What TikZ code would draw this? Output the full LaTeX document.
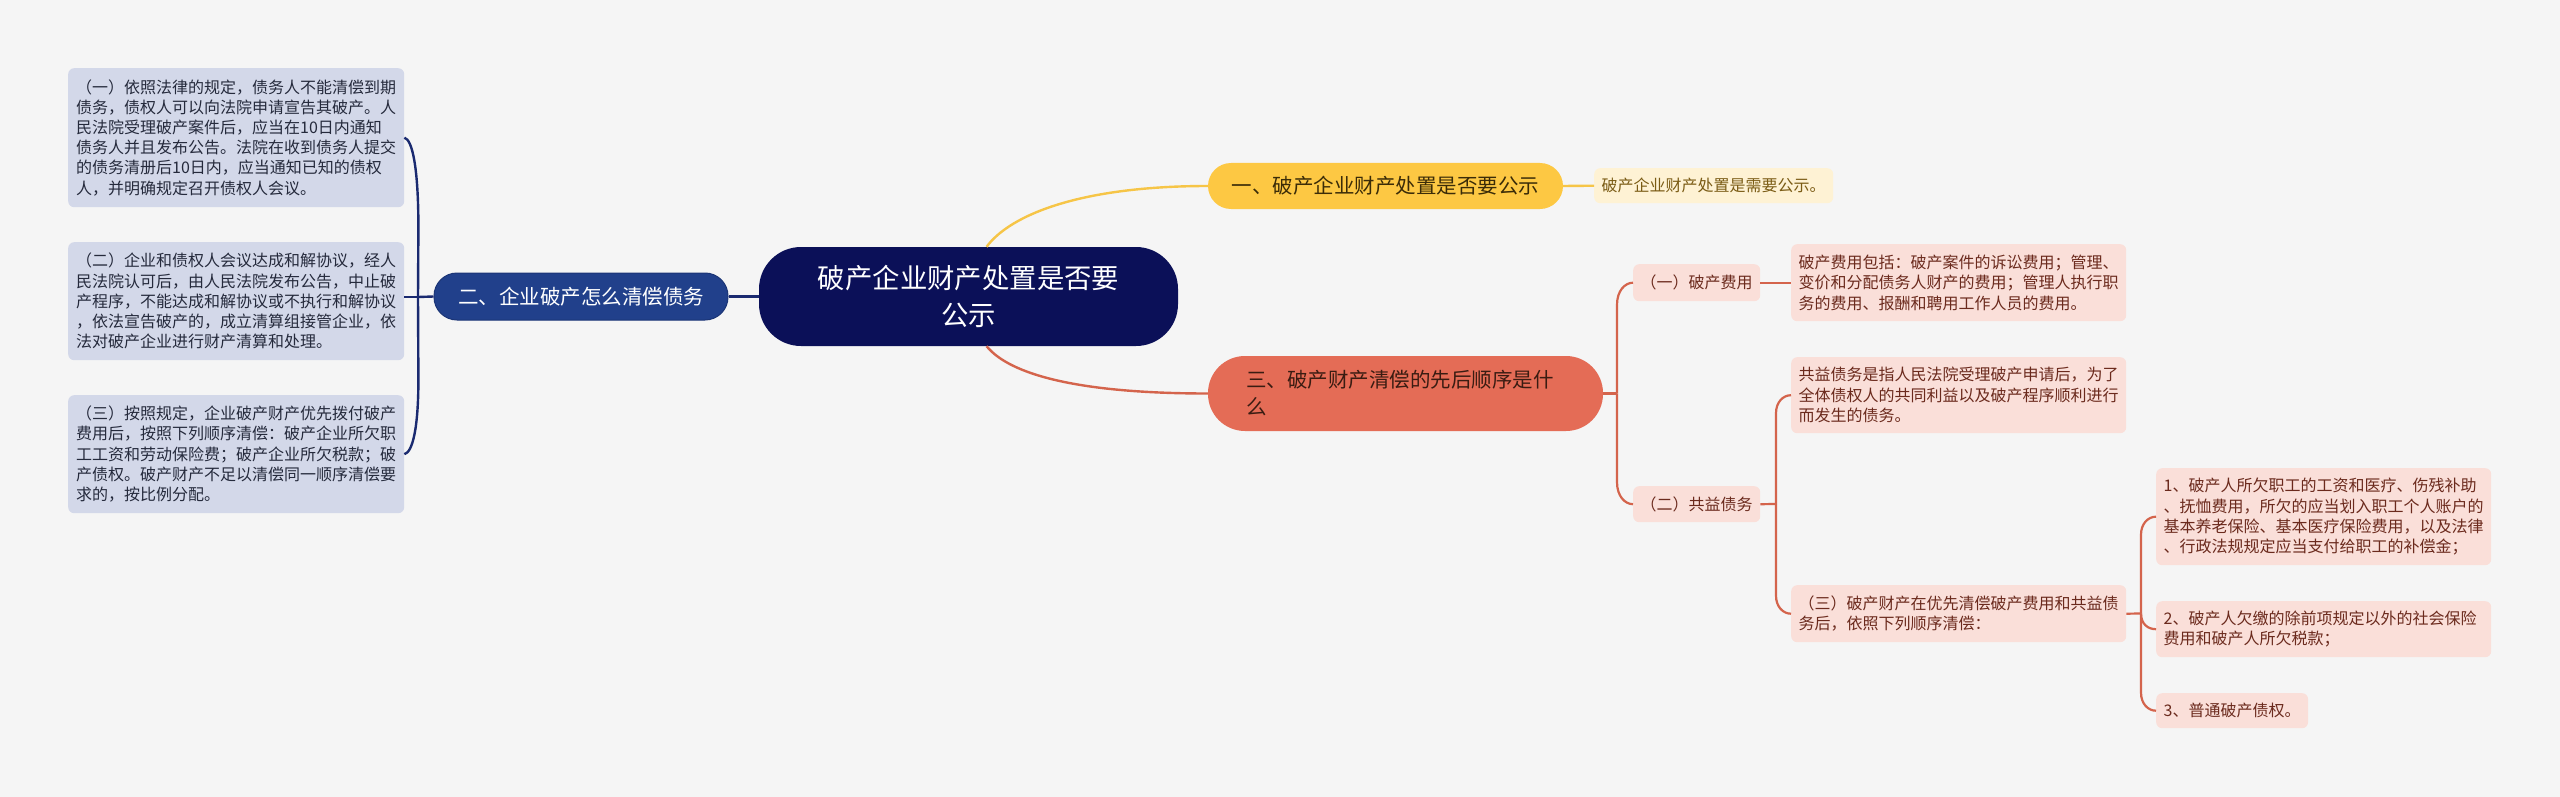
\documentclass[tikz,border=0pt]{standalone}
\usepackage{fontspec}
\setmainfont{Noto Sans CJK SC}
\usetikzlibrary{calc}
\definecolor{bg}{HTML}{F5F5F5}
\definecolor{leftfill}{HTML}{D3D8E9}
\definecolor{lefttext}{HTML}{252A3C}
\definecolor{navyline}{HTML}{1A2A70}
\definecolor{centerfill}{HTML}{0B1058}
\definecolor{bluefill}{HTML}{21408B}
\definecolor{blueborder}{HTML}{1B3576}
\definecolor{yellowfill}{HTML}{FDC843}
\definecolor{yellowline}{HTML}{F6C547}
\definecolor{yellowtext}{HTML}{3B2C08}
\definecolor{creamfill}{HTML}{FEF2D4}
\definecolor{creamtext}{HTML}{7A5B14}
\definecolor{redfill}{HTML}{E46C56}
\definecolor{redline}{HTML}{D4644C}
\definecolor{redtext}{HTML}{3A1C12}
\definecolor{pinkfill}{HTML}{FADFD9}
\definecolor{pinktext}{HTML}{6B2A1D}
\tikzset{
  leftbox/.style={fill=leftfill, text=lefttext, rounded corners=6pt, anchor=north west,
    inner xsep=8pt, inner ysep=0pt, text width=320pt, align=left,
    font=\fontsize{16}{20.2}\selectfont},
  pinkbox/.style={fill=pinkfill, text=pinktext, rounded corners=6pt, anchor=north west,
    inner xsep=7.5pt, inner ysep=0pt, align=left,
    font=\fontsize{16}{20.4}\selectfont},
  pinkwide/.style={pinkbox, text width=320pt},
  pinksmall/.style={pinkbox, align=center, minimum width=127pt, inner xsep=0pt},
  creambox/.style={fill=creamfill, text=creamtext, rounded corners=6pt, anchor=north west,
    inner xsep=7.5pt, inner ysep=0pt, minimum height=35pt,
    font=\fontsize{16}{20}\selectfont},
  centerbox/.style={fill=centerfill, text=white, rounded corners=42pt, align=center,
    minimum width=419pt, minimum height=99pt, inner sep=0pt,
    font=\fontsize{27.4}{37}\selectfont},
  bluebox/.style={fill=bluefill, draw=blueborder, line width=1pt, text=white, rounded corners=23pt,
    minimum width=294pt, minimum height=47pt, inner sep=0pt,
    font=\fontsize{20.5}{26}\selectfont},
  yellowbox/.style={fill=yellowfill, text=yellowtext, rounded corners=23pt,
    minimum width=355pt, minimum height=46pt, inner sep=0pt,
    font=\fontsize{20.5}{26}\selectfont},
  redbox/.style={fill=redfill, text=redtext, rounded corners=37pt, align=left,
    text width=319pt, inner xsep=38pt, inner ysep=0pt, minimum height=75pt,
    font=\fontsize{20.5}{27}\selectfont},
  navyconn/.style={draw=navyline, line width=2.4pt},
  yellowconn/.style={draw=yellowline, line width=2.4pt},
  redconn/.style={draw=redline, line width=2.4pt},
  subconn/.style={draw=redline, line width=2.2pt},
}
\begin{document}
\begin{tikzpicture}[x=1pt,y=-1pt]
\useasboundingbox (0,0) rectangle (2560,797);
\fill[bg] (0,0) rectangle (2560,797);

% central and main branches
\node[centerbox] (c) at (968.5,296.5) {破产企业财产处置是否要\\公示};
\node[bluebox] (n2) at (581,296.5) {二、企业破产怎么清偿债务};
\node[yellowbox] (y1) at (1385.5,186) {一、破产企业财产处置是否要公示};
\node[redbox] (r1) at (1405.5,393.5) {三、破产财产清偿的先后顺序是什\\么};

% left leaves
\node[leftbox, minimum height=139pt] (l1) at (68,68) {（一）依照法律的规定，债务人不能清偿到期\\债务，债权人可以向法院申请宣告其破产。人\\民法院受理破产案件后，应当在10日内通知\\债务人并且发布公告。法院在收到债务人提交\\的债务清册后10日内，应当通知已知的债权\\人，并明确规定召开债权人会议。};
\node[leftbox, minimum height=118pt] (l2) at (68,242) {（二）企业和债权人会议达成和解协议，经人\\民法院认可后，由人民法院发布公告，中止破\\产程序，不能达成和解协议或不执行和解协议\\，依法宣告破产的，成立清算组接管企业，依\\法对破产企业进行财产清算和处理。};
\node[leftbox, minimum height=118pt] (l3) at (68,395) {（三）按照规定，企业破产财产优先拨付破产\\费用后，按照下列顺序清偿：破产企业所欠职\\工工资和劳动保险费；破产企业所欠税款；破\\产债权。破产财产不足以清偿同一顺序清偿要\\求的，按比例分配。};

% yellow leaf
\node[creambox] (yl) at (1594,168) {破产企业财产处置是需要公示。};

% red sub nodes
\node[pinksmall, minimum height=37pt] (s1) at (1633,264) {（一）破产费用};
\node[pinksmall, minimum height=36pt] (s2) at (1633,486) {（二）共益债务};
\node[pinkwide, minimum height=77pt] (f1) at (1791,244) {破产费用包括：破产案件的诉讼费用；管理、\\变价和分配债务人财产的费用；管理人执行职\\务的费用、报酬和聘用工作人员的费用。};
\node[pinkwide, minimum height=76pt] (g1) at (1791,357) {共益债务是指人民法院受理破产申请后，为了\\全体债权人的共同利益以及破产程序顺利进行\\而发生的债务。};
\node[pinkwide, minimum height=57pt] (g3) at (1791,585) {（三）破产财产在优先清偿破产费用和共益债\\务后，依照下列顺序清偿：};
\node[pinkwide, minimum height=97pt] (t1) at (2156,468) {1、破产人所欠职工的工资和医疗、伤残补助\\、抚恤费用，所欠的应当划入职工个人账户的\\基本养老保险、基本医疗保险费用，以及法律\\、行政法规规定应当支付给职工的补偿金；};
\node[pinkwide, minimum height=56pt] (t2) at (2156,601) {2、破产人欠缴的除前项规定以外的社会保险\\费用和破产人所欠税款；};
\node[pinkbox, minimum height=35pt] (t3) at (2156,693) {3、普通破产债权。};

% junctions
\coordinate (bl) at (418,297);
\coordinate (jr) at (1617,393.5);
\coordinate (j2) at (1776,504);
\coordinate (j3) at (2141,613.5);

% left connectors
\draw[navyconn] (c.west) -- (n2.east);
\draw[navyconn] (n2.west) -- (bl);
\draw[navyconn] (bl) -- (l2.east |- bl);
\draw[navyconn] (bl) -- ($(l1.east)+(14,90)$) .. controls ($(l1.east)+(14,30)$) and ($(l1.east)+(8,2)$) .. (l1.east);
\draw[navyconn] (bl) -- ($(l3.east)+(14,-75)$) .. controls ($(l3.east)+(14,-25)$) and ($(l3.east)+(8,-2)$) .. (l3.east);

% yellow connectors
\draw[yellowconn] (c.70) .. controls (1010,215) and (1080,186) .. (y1.west);
\draw[yellowconn] (y1.east) -- (yl.west);

% red connectors
\draw[redconn] (c.-70) .. controls (1010,375) and (1080,393.5) .. (r1.west);
\draw[subconn] (r1.east) -- (jr);
\draw[subconn] (jr) -- ($(s1.west)+(-16,22)$) .. controls ($(s1.west)+(-16,8)$) and ($(s1.west)+(-8,0)$) .. (s1.west);
\draw[subconn] (jr) -- ($(s2.west)+(-16,-22)$) .. controls ($(s2.west)+(-16,-8)$) and ($(s2.west)+(-8,0)$) .. (s2.west);
\draw[subconn] (s1.east) -- (f1.west);
\draw[subconn] (s2.east) -- (j2);
\draw[subconn] (j2) -- ($(g1.west)+(-15,18)$) .. controls ($(g1.west)+(-15,7)$) and ($(g1.west)+(-8,0)$) .. (g1.west);
\draw[subconn] (j2) -- ($(g3.west)+(-15,-18)$) .. controls ($(g3.west)+(-15,-7)$) and ($(g3.west)+(-8,0)$) .. (g3.west);
\draw[subconn] (g3.east) -- (j3);
\draw[subconn] (j3) -- ($(t1.west)+(-15,18)$) .. controls ($(t1.west)+(-15,7)$) and ($(t1.west)+(-8,0)$) .. (t1.west);
\draw[subconn] (j3) .. controls ($(t2.west)+(-15,-5)$) and ($(t2.west)+(-8,0)$) .. (t2.west);
\draw[subconn] (j3) -- ($(t3.west)+(-15,-18)$) .. controls ($(t3.west)+(-15,-7)$) and ($(t3.west)+(-8,0)$) .. (t3.west);
\end{tikzpicture}
\end{document}
